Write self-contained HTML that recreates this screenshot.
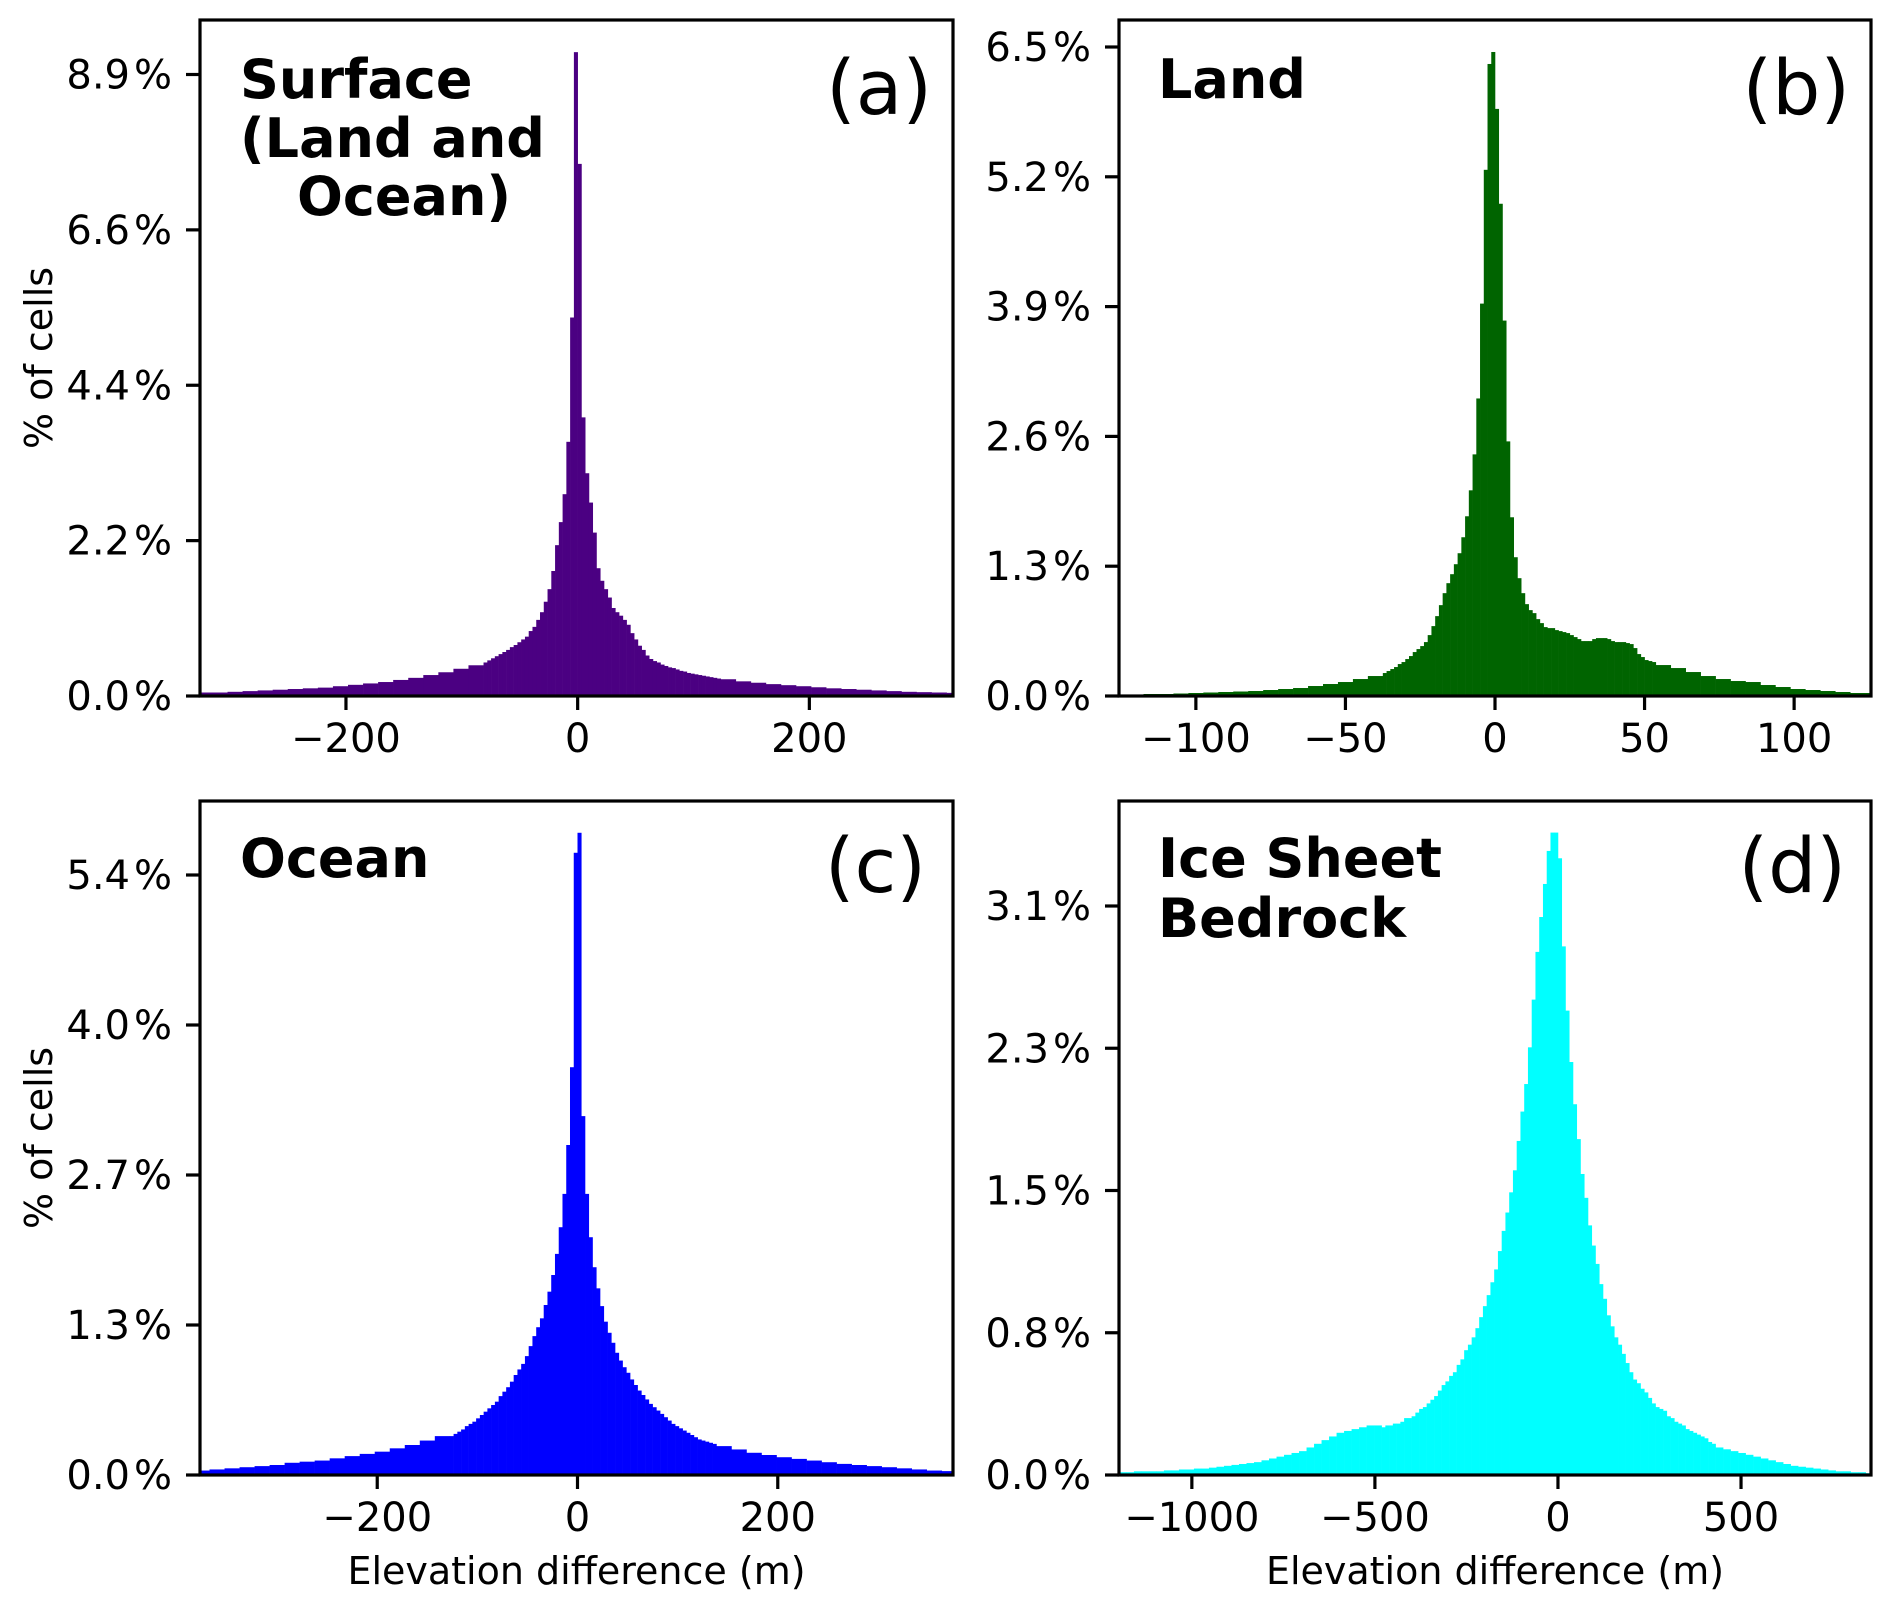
<!DOCTYPE html>
<html><head><meta charset="utf-8">
<style>
html,body{margin:0;padding:0;background:#fff;}
svg{display:block;font-family:"DejaVu Sans","Liberation Sans",sans-serif;}
</style></head>
<body>
<svg id="fig" width="1892" height="1609" viewBox="0 0 1892 1609" xmlns="http://www.w3.org/2000/svg">
<rect x="0" y="0" width="1892" height="1609" fill="#fff"/>
</svg>
<script>
// ---- Panel (a) Surface ----
const aCenter = [0.48,0.51,0.54,0.57,0.60,0.63,0.66,0.70,0.73,0.77,0.81,
 0.85,0.93,0.99,1.09,1.20,1.35,1.53,1.79,2.16,2.49,2.89,3.64,5.42,9.22,
 7.62,3.99,3.19,2.77,2.34,1.83,1.65,1.53,1.41,1.26,1.20,1.15,1.09,1.02,0.90,0.81,0.72,0.66,0.58,0.53,
 0.50,0.48,0.45,0.43,0.41,0.40,0.38,0.36,0.35,0.33,0.32,0.31,0.30,0.29,0.28,0.27,0.26,0.25];
const aLeftTail = [0.05,0.05,0.06,0.07,0.08,0.09,0.10,0.11,0.12,0.14,0.16,0.18,0.20,0.23,0.26,0.30,0.34,0.39,0.44];
const aRightTail = [0.24,0.21,0.19,0.17,0.155,0.14,0.125,0.11,0.10,0.09,0.08,0.07,0.06,0.055,0.05,0.045];
const aBins = [-81.25, 3.25, 13];
const aYTicks = [0, 2.225, 4.45, 6.675, 8.9];
const aYLabels = ["0.0","2.2","4.4","6.6","8.9"];
const aXTicks = [-200, 0, 200];
const aDomain = [-326, 324];

// ---- Panel (b) Land ----
const bCenter = [0.23,0.25,0.27,0.29,0.32,0.34,0.37,0.40,0.44,0.47,0.50,0.54,0.61,0.70,0.80,0.91,1.03,1.13,1.22,1.32,1.43,1.59,1.80,2.06,2.42,2.98,3.93,5.27,6.33,6.45,
 5.88,4.93,3.76,2.55,1.79,1.39,1.18,1.03,0.92,0.86,0.83,0.77,0.73,0.69,0.68,0.68,0.66,0.65,0.64,0.63,
 0.61,0.59,0.57,0.55,0.55,0.55,0.57,0.58,0.58,0.58,0.57,0.55,0.54,0.54,0.54,0.53,0.52,0.48,0.42,0.39,0.36,0.35,0.34];
const bLeftTail = [0.01,0.015,0.02,0.02,0.025,0.03,0.035,0.04,0.045,0.05,0.06,0.07,0.08,0.10,0.12,0.14,0.17,0.20];
const bRightTail = [0.31,0.28,0.24,0.20,0.17,0.15,0.14,0.11,0.09,0.07,0.06,0.05,0.04,0.03,0.03];
const bBins = [-37.5, 1.25, 5];
const bYTicks = [0, 1.3, 2.6, 3.9, 5.2, 6.5];
const bYLabels = ["0.0","1.3","2.6","3.9","5.2","6.5"];
const bXTicks = [-100, -50, 0, 50, 100];
const bDomain = [-125.7, 125.7];

// ---- Panel (c) Ocean ----
const cCenter = [0.35,0.37,0.39,0.41,0.44,0.46,0.48,0.51,0.54,0.57,0.60,0.63,0.66,0.71,0.75,0.79,0.84,0.90,0.95,1.00,1.07,1.16,1.25,1.33,1.41,1.53,1.65,1.80,1.99,2.23,2.53,2.97,3.67,5.60,
 5.78,
 3.23,2.53,2.14,1.87,1.68,1.52,1.38,1.28,1.19,1.10,1.03,0.97,0.92,0.86,0.81,0.76,0.72,0.68,0.64,0.61,
 0.58,0.55,0.52,0.49,0.46,0.44,0.42,0.40,0.38,0.36,0.34,0.32,0.31,0.30,0.29,0.28];
const cLeftTail = [0.04,0.05,0.06,0.07,0.08,0.09,0.11,0.12,0.13,0.15,0.17,0.19,0.21,0.24,0.27,0.31,0.35];
const cRightTail = [0.26,0.23,0.20,0.18,0.16,0.145,0.13,0.115,0.10,0.09,0.08,0.07,0.06,0.05,0.04,0.035,0.03];
const cBins = [-127.5, 3.75, 15];
const cYTicks = [0, 1.35, 2.7, 4.05, 5.4];
const cYLabels = ["0.0","1.3","2.7","4.0","5.4"];
const cXTicks = [-200, 0, 200];
const cDomain = [-377, 375];

// ---- Panel (d) Ice Sheet Bedrock ----
const dCenter = [0.26,0.27,0.27,0.28,0.28,0.29,0.31,0.31,0.32,0.34,0.36,0.37,0.39,0.41,0.43,0.46,0.49,0.51,0.54,0.56,0.60,0.63,0.68,0.71,0.75,0.80,0.86,0.92,0.98,1.05,1.12,1.22,1.33,1.43,1.54,1.66,1.82,1.98,2.13,2.33,2.59,2.85,3.04,3.22,3.40,3.50,3.50,
 3.36,2.88,2.53,2.25,2.02,1.83,1.64,1.51,1.36,1.25,1.15,1.04,0.96,0.87,0.81,0.75,0.71,0.66,0.61,0.56,0.52,0.50,0.47,0.45,0.42,0.39,0.37,0.36,0.35,0.32,0.31,0.29,0.28,0.27,0.25,0.24,0.23,0.22,0.21,0.20,0.18,0.17,0.15,0.15,0.14,0.14,0.13,0.13];
const dLeftTail = [0.015,0.015,0.02,0.02,0.02,0.02,0.025,0.025,0.03,0.03,0.035,0.035,0.04,0.045,0.05,0.055,0.06,0.065,0.07,0.08,0.09,0.10,0.11,0.12,0.13,0.15,0.17,0.19,0.21,0.23,0.24,0.25,0.26,0.27,0.27];
const dRightTail = [0.12,0.11,0.10,0.09,0.08,0.07,0.06,0.05,0.045,0.04,0.035,0.03,0.025,0.02,0.02,0.015,0.015,0.01];
const dBins = [-481.75, 10.25, 20.5];
const dYTicks = [0, 0.775, 1.55, 2.325, 3.1];
const dYLabels = ["0.0","0.8","1.5","2.3","3.1"];
const dXTicks = [-1000, -500, 0, 500];
const dDomain = [-1199, 855];

const NS = "http://www.w3.org/2000/svg";
const svg = document.getElementById("fig");
function mk(tag, attrs, parent) {
  const e = document.createElementNS(NS, tag);
  for (const k in attrs) e.setAttribute(k, attrs[k]);
  (parent || svg).appendChild(e);
  return e;
}

function drawPanel(p) {
  const g = mk("g", {});
  
  
  const L = p.box[0], R = p.box[1], T = p.box[2], B = p.box[3];
  const W = R - L, H = B - T;
  const yMaxTick = p.yTicks[p.yTicks.length - 1];
  const pxPer = (B - p.topTickY) / yMaxTick;
  const xs = v => L + (v - p.domain[0]) / (p.domain[1] - p.domain[0]) * W;
  const ys = v => B - v * pxPer;

  const clipId = "clip-" + p.name;
  const cp = mk("clipPath", {id: clipId}, g);
  mk("rect", {x: L, y: T, width: W, height: H}, cp);
  const bars = mk("g", {"clip-path": "url(#" + clipId + ")"}, g);
  
  

  const start = p.bins[0], fw = p.bins[1], cw = p.bins[2];
  function bar(x0, x1, v) {
    const r = mk("rect", {x: xs(x0), y: ys(v), width: Math.max(0, xs(x1) - xs(x0)) + 0.3, height: B - ys(v), fill: p.color}, bars);
    
    
  }
  const lt = p.left;
  for (let i = 0; i < lt.length; i++) {
    const x0 = start - (lt.length - i) * cw;
    bar(x0, x0 + cw, lt[i]);
  }
  for (let i = 0; i < p.center.length; i++) {
    const x0 = start + i * fw;
    bar(x0, x0 + fw, p.center[i]);
  }
  const cEnd = start + p.center.length * fw;
  for (let i = 0; i < p.right.length; i++) {
    const x0 = cEnd + i * cw;
    bar(x0, x0 + cw, p.right[i]);
  }

  const fr = mk("rect", {x: L, y: T, width: W, height: H, fill: "none", stroke: "#000", "stroke-width": 3.2}, g);
  
  

  for (let i = 0; i < p.yTicks.length; i++) {
    const y = ys(p.yTicks[i]);
    const t = mk("line", {x1: L - 14, x2: L, y1: y, y2: y, stroke: "#000", "stroke-width": 3.2}, g);
    
    
    const tx = mk("text", {x: L - 28, y: y + 14, "text-anchor": "end", "font-size": 40, fill: "#000"}, g);
    tx.textContent = p.yLabels[i] + "\u200A%";
    
    
  }
  for (let i = 0; i < p.xTicks.length; i++) {
    const x = xs(p.xTicks[i]);
    const t = mk("line", {x1: x, x2: x, y1: B, y2: B + 14, stroke: "#000", "stroke-width": 3.2}, g);
    
    
    const tx = mk("text", {x: x, y: B + 56, "text-anchor": "middle", "font-size": 40, fill: "#000"}, g);
    tx.textContent = String(p.xTicks[i]).replace("-", "\u2212");
    
    
  }
  for (let i = 0; i < p.title.length; i++) {
    const tl = mk("text", {x: p.title[i][1], y: p.title[i][2], "font-size": 54, "font-weight": "bold", fill: "#000"}, g);
    tl.textContent = p.title[i][0];
    
    
  }
  const lab = mk("text", {x: p.tag[1], y: p.tag[2], "font-size": 76, "text-anchor": "end", fill: "#000"}, g);
  lab.textContent = p.tag[0];
  
  

  if (p.ylabel) {
    const yl = mk("text", {x: 0, y: 0, "font-size": 38, "text-anchor": "middle", fill: "#000", transform: "translate(52," + ((T + B) / 2) + ") rotate(-90)"}, g);
    yl.textContent = "% of cells";
    
    
  }
  if (p.xlabel) {
    const xl = mk("text", {x: (L + R) / 2, y: B + 109, "font-size": 38, "text-anchor": "middle", fill: "#000"}, g);
    xl.textContent = "Elevation difference (m)";
    
    
  }
}

drawPanel({name: "panel-a-surface", box: [200, 953, 20, 696], topTickY: 74.5, color: "#4b0082",
  center: aCenter, left: aLeftTail, right: aRightTail, bins: aBins, yTicks: aYTicks, yLabels: aYLabels, xTicks: aXTicks, domain: aDomain,
  title: [["Surface", 240, 98], ["(Land and", 240, 157], ["Ocean)", 297, 215]], tag: ["(a)", 932, 114], ylabel: true, xlabel: false});
drawPanel({name: "panel-b-land", box: [1119, 1871, 20, 696], topTickY: 47, color: "#006400",
  center: bCenter, left: bLeftTail, right: bRightTail, bins: bBins, yTicks: bYTicks, yLabels: bYLabels, xTicks: bXTicks, domain: bDomain,
  title: [["Land", 1158, 98]], tag: ["(b)", 1850, 114], ylabel: false, xlabel: false});
drawPanel({name: "panel-c-ocean", box: [200, 953, 801, 1475], topTickY: 875, color: "#0000ff",
  center: cCenter, left: cLeftTail, right: cRightTail, bins: cBins, yTicks: cYTicks, yLabels: cYLabels, xTicks: cXTicks, domain: cDomain,
  title: [["Ocean", 240, 877]], tag: ["(c)", 926, 892], ylabel: true, xlabel: true});
drawPanel({name: "panel-d-ice-sheet-bedrock", box: [1119, 1871, 801, 1475], topTickY: 906, color: "#00ffff",
  center: dCenter, left: dLeftTail, right: dRightTail, bins: dBins, yTicks: dYTicks, yLabels: dYLabels, xTicks: dXTicks, domain: dDomain,
  title: [["Ice Sheet", 1158, 877], ["Bedrock", 1158, 937]], tag: ["(d)", 1846, 892], ylabel: false, xlabel: true});
</script>
</body></html>
